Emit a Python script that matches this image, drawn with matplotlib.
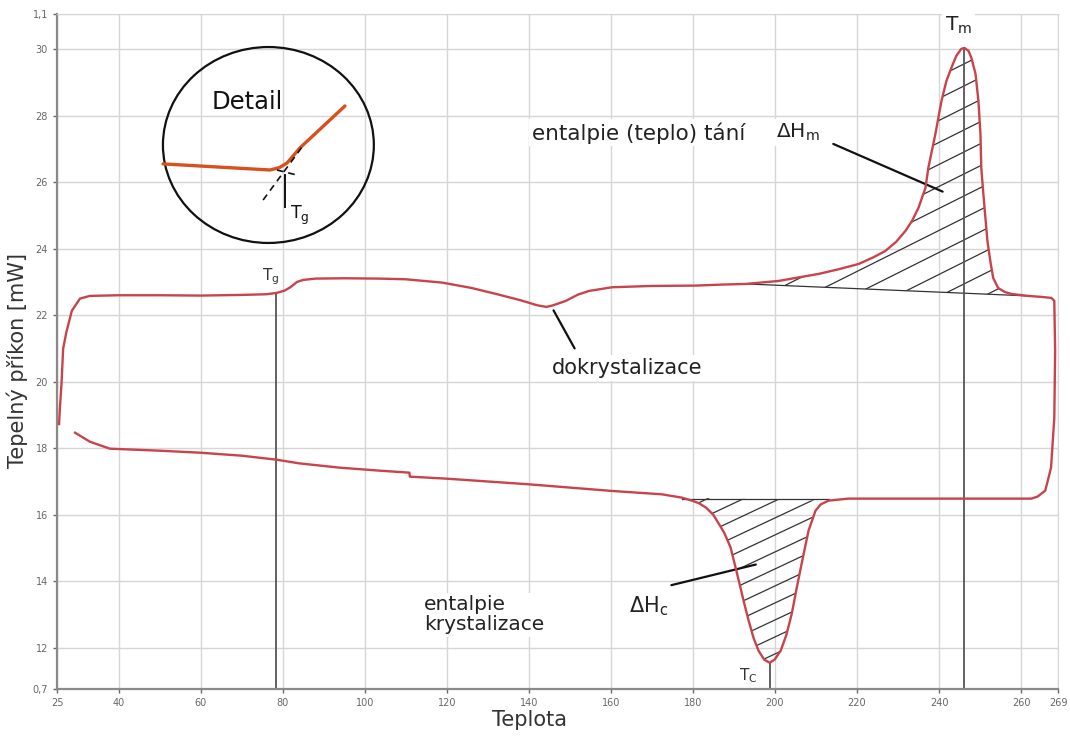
import matplotlib
matplotlib.use("Agg")
import matplotlib.pyplot as plt
import numpy as np
from matplotlib.patches import Polygon, Ellipse

plt.rcParams['font.family'] = ['DejaVu Sans']
plt.rcParams['mathtext.fontset'] = 'dejavusans'

# heating run (left to right), then down the right edge
heat_T = [25.5, 25.7, 26.1, 26.5, 27.3, 28.6, 30.6, 33, 40, 50, 60, 70, 76, 78.5,
          80.5, 82, 83.5, 85, 88, 95, 103.6, 110, 118.9, 126, 132, 138, 142, 144.3,
          146, 149, 152, 154.7, 160.3, 170, 180.7, 187, 192.9, 200.9, 210.6, 215.5,
          220.4, 224, 226.9, 229.5, 231.8, 233.5, 235, 236.7, 237.4, 239.1, 240.6,
          241.8, 243, 244.2, 245.4, 246.2, 247.2, 247.9, 248.9, 249.6, 250.1, 250.3,
          250.8, 251.3, 251.8, 252.5, 253.2, 254.4, 256, 257.6, 261.7, 265,
          267.4, 268.1, 268.3, 268.1, 267.3, 265.9, 264, 262.5]
heat_P = [18.73, 19.2, 19.94, 21.0, 21.5, 22.13, 22.5, 22.58, 22.6, 22.6, 22.59, 22.61,
          22.63, 22.67, 22.74, 22.85, 23.0, 23.06, 23.1, 23.11, 23.1, 23.08, 22.98, 22.82,
          22.64, 22.45, 22.3, 22.25, 22.3, 22.43, 22.62, 22.73, 22.84, 22.88, 22.89, 22.92,
          22.94, 23.03, 23.24, 23.38, 23.54, 23.74, 23.93, 24.2, 24.53, 24.85, 25.23,
          25.83, 26.43, 27.44, 28.44, 29.04, 29.43, 29.79, 30.0, 30.03, 29.94, 29.73,
          29.25, 28.44, 27.44, 26.43, 25.65, 24.93, 24.23, 23.63, 23.12, 22.82, 22.7,
          22.64, 22.58, 22.55, 22.52, 22.43, 20.93, 18.92, 17.42, 16.73, 16.55, 16.49]

# cooling run (right to left)
cool_T = [262.5, 240, 220, 217.9, 213.1, 211.2, 209.9, 208.2, 206.5, 205.3, 204.1,
          202.8, 201.4, 199.9, 198.7, 197.4, 196.0, 194.8, 193.6, 192.4, 191.2, 189.2,
          187.7, 186.3, 185, 183.2, 181.5, 180, 177.3, 172.4, 160.3, 140,
          119.9, 111, 110.9, 103.6, 93.9, 84, 78.5, 70, 59.8, 50, 40, 37.9, 33, 29.4]
cool_P = [16.49, 16.49, 16.49, 16.49, 16.43, 16.32, 16.13, 15.53, 14.53, 13.8, 13.03,
          12.4, 11.92, 11.65, 11.56, 11.65, 11.92, 12.3, 12.82, 13.4, 14.02, 15.02,
          15.45, 15.74, 16.0, 16.22, 16.35, 16.42, 16.52, 16.62, 16.72, 16.92,
          17.09, 17.15, 17.27, 17.33, 17.42, 17.55, 17.66, 17.78, 17.87, 17.93, 17.98,
          17.99, 18.2, 18.47]

Tg, Tc, Tm = 78.5, 198.7, 246.2
Tg_P, Tc_P, Tm_P = 22.67, 11.56, 30.03
melt_base = [(192.9, 22.94), (261.7, 22.58)]
cryst_base = [(177.3, 16.49), (213.1, 16.49)]

x_ticks = [25, 40, 60, 80, 100, 120, 140, 160, 180, 200, 220, 240, 260, 269]
y_ticks = [10.77, 12, 14, 16, 18, 20, 22, 24, 26, 28, 30, 31.05]
y_labels = ['0,7', '12', '14', '16', '18', '20', '22', '24', '26', '28', '30', '1,1']

# inset sketch, in inset units 0..100
detail_u = [3.5, 50, 54, 57.4, 63, 82.6]
detail_v = [41, 38.1, 39.2, 41.4, 48.6, 68.6]

red = '#c9434c'
dark = '#555555'
W, H = 1070, 740

fig = plt.figure(figsize=(W / 100, H / 100), dpi=100)
ax = fig.add_axes([57 / W, 1 - 689 / H, 1001 / W, 675 / H])
xmin, xmax = 25, 269
ymin, ymax = y_ticks[0], y_ticks[-1]
ax.set_xlim(xmin, xmax)
ax.set_ylim(ymin, ymax)

ax.set_xticks(x_ticks)
ax.set_yticks(y_ticks)
ax.set_yticklabels(y_labels)
ax.tick_params(labelsize=7, colors='#666666', length=3, width=1)
ax.grid(True, color='#d6d6d6', lw=1)
for s in ['left', 'bottom']:
    ax.spines[s].set_color('#8a8a8a')
    ax.spines[s].set_linewidth(1.6)
for s in ['top', 'right']:
    ax.spines[s].set_color('#d6d6d6')

# pixel scale used for the hatch angle
ppd = ax.get_position().width * W / (xmax - xmin)
ppu = ax.get_position().height * H / (ymax - ymin)


def hatch(xs, ys, slope_px, gap_px, x_range):
    poly = Polygon(np.column_stack([xs, ys]), closed=True, fc='none', ec='none')
    ax.add_patch(poly)
    k = slope_px * ppd / ppu
    gap = gap_px / ppu
    x0, x1 = x_range
    lo = min(ys) - k * (x1 - x0) - gap
    for c in np.arange(lo, max(ys) + gap, gap):
        ln, = ax.plot([x0, x1], [c, c + k * (x1 - x0)], color='#333333', lw=0.9)
        ln.set_clip_path(poly)


hT, hP = np.array(heat_T), np.array(heat_P)
m = (hT >= melt_base[0][0]) & (hT <= melt_base[1][0])
m[np.argmax(hT > 261.8):] = False
hatch(hT[m], hP[m], 0.5, 22, (melt_base[0][0], melt_base[1][0]))
cT, cP = np.array(cool_T), np.array(cool_P)
c = (cT >= cryst_base[0][0]) & (cT <= cryst_base[1][0])
hatch(cT[c], cP[c], 0.47, 17, (cryst_base[0][0], cryst_base[1][0]))

ax.plot(*zip(*melt_base), color='#333333', lw=0.9)
ax.plot(*zip(*cryst_base), color='#333333', lw=0.9)

# characteristic temperatures
ax.plot([Tg, Tg], [ymin, Tg_P], color=dark, lw=1.3)
ax.plot([Tc, Tc], [ymin, Tc_P], color=dark, lw=1.3)
ax.plot([Tm, Tm], [ymin, Tm_P], color=dark, lw=1.3)

ax.plot(heat_T + cool_T, heat_P + cool_P, color=red, lw=1.7, zorder=5,
        solid_joinstyle='round')

box = dict(fc='white', ec='none', pad=2)
ax.text(Tm - 1.5, 30.7, r'T$_\mathrm{m}$', fontsize=14.5, ha='center', va='center',
        color='#222222', bbox=box)
ax.text(Tg - 1.3, 23.15, r'T$_\mathrm{g}$', fontsize=11, ha='center', va='center',
        color='#333333')
ax.text(Tc - 5.3, 11.17, r'T$_\mathrm{C}$', fontsize=11, ha='center', va='center',
        color='#333333')
ax.text(140.8, 27.48, 'entalpie (teplo) tání', fontsize=15.5, ha='left', va='center',
        color='#222222', bbox=box)
ax.text(200.2, 27.48, r'ΔH$_\mathrm{m}$', fontsize=14.5, ha='left', va='center',
        color='#222222', bbox=box)
ax.text(145.7, 20.42, 'dokrystalizace', fontsize=15, ha='left', va='center',
        color='#222222', bbox=box)
ax.text(114.5, 13.0, 'entalpie\nkrystalizace', fontsize=14.5, ha='left', va='center',
        color='#222222', linespacing=1.05, bbox=box)
ax.text(164.4, 13.27, r'ΔH$_\mathrm{c}$', fontsize=15, ha='left', va='center',
        color='#222222', bbox=box)

lead = dict(arrowstyle='-', lw=1.6, color='#111111')
ax.annotate('', xy=(241.5, 25.68), xytext=(213.6, 27.18), arrowprops=lead)
ax.annotate('', xy=(145.7, 22.22), xytext=(151.5, 20.93), arrowprops=lead)
ax.annotate('', xy=(196.0, 14.53), xytext=(174.1, 13.87), arrowprops=lead)

ax.set_xlabel('Teplota', fontsize=15, color='#333333')
ax.xaxis.set_label_coords(0.4725, -0.031, transform=ax.transAxes)
ax.set_ylabel('Tepelný příkon [mW]', fontsize=15, color='#333333')
ax.yaxis.set_label_coords(-0.029, 0.486, transform=ax.transAxes)

# "Detail" inset
ins = fig.add_axes([155 / W, 1 - 250 / H, 230 / W, 210 / H])
ins.set_xlim(0, 100)
ins.set_ylim(0, 100)
ins.axis('off')
ins.patch.set_alpha(0)
ins.add_patch(Ellipse((49.3, 50), 91.7, 93.3, fc='none', ec='#111111', lw=1.6))
ins.plot(detail_u, detail_v, color='#d9501e', lw=2.4, solid_capstyle='round',
         solid_joinstyle='round')
ins.plot([47, 63.9], [23.8, 49], color='#111111', lw=1.2, ls=(0, (4, 3)))
ins.plot([53, 61.7], [38.1, 35.7], color='#111111', lw=1.2, ls=(0, (4, 3)))
ins.plot([56.5, 56.5], [35.7, 20.5], color='#111111', lw=1.4)
ins.text(58.7, 16.7, r'T$_\mathrm{g}$', fontsize=12.5, ha='left', va='center', color='#111111')
ins.text(40, 70.5, 'Detail', fontsize=17.5, ha='center', va='center', color='#111111')

fig.savefig('out.png', dpi=100, facecolor='white')
